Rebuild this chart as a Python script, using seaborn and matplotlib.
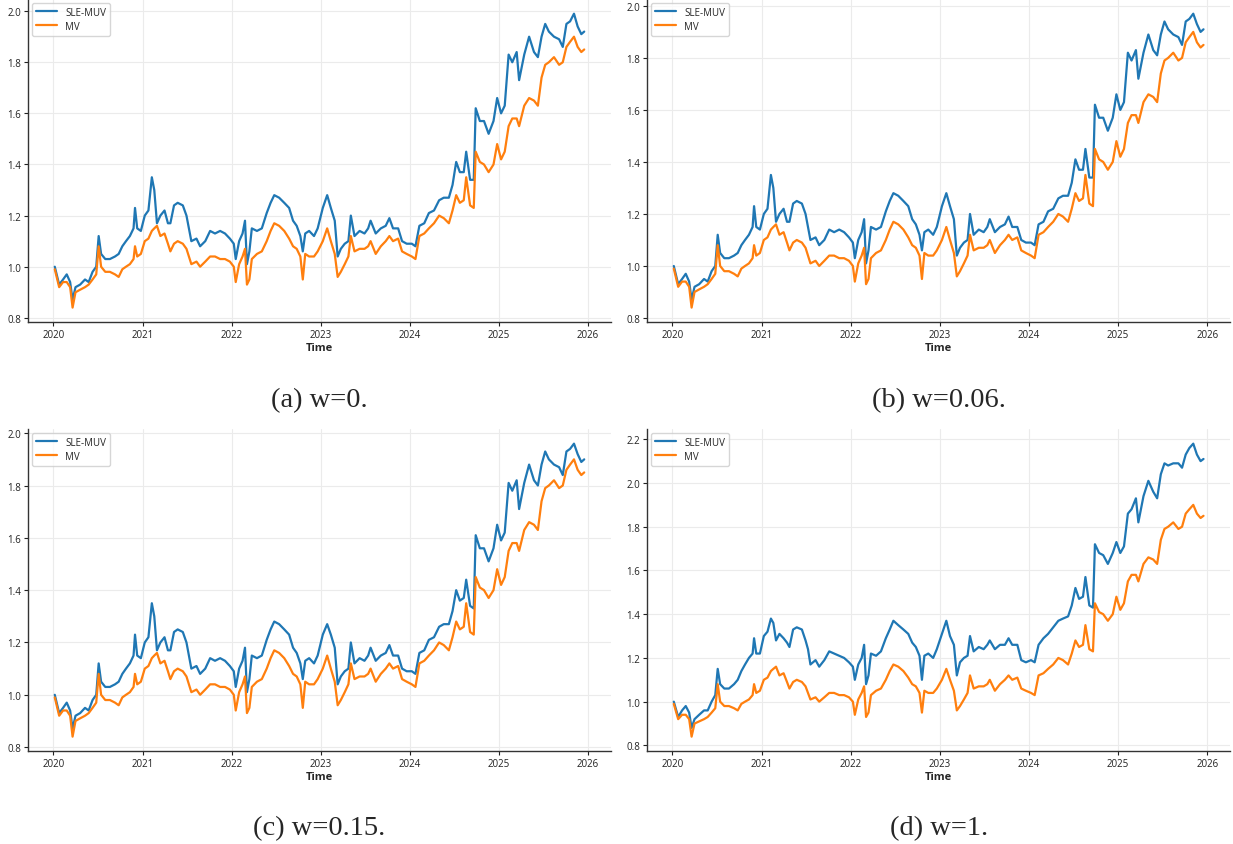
import matplotlib
matplotlib.use("Agg")
import matplotlib.pyplot as plt
import matplotlib.dates as mdates
import seaborn as sns
import pandas as pd

dates = [
    "2020-01-07", "2020-01-25", "2020-02-10", "2020-02-25", "2020-03-10", "2020-03-20", "2020-04-01",
    "2020-04-20", "2020-05-10", "2020-05-25", "2020-06-10", "2020-06-25", "2020-07-05", "2020-07-15",
    "2020-08-01", "2020-08-20", "2020-09-10", "2020-09-25", "2020-10-10", "2020-10-25", "2020-11-10",
    "2020-11-25", "2020-12-01", "2020-12-10", "2020-12-25",
    "2021-01-10", "2021-01-25", "2021-02-08", "2021-02-18", "2021-03-01", "2021-03-15", "2021-04-01",
    "2021-04-15", "2021-04-25", "2021-05-10", "2021-05-25", "2021-06-15", "2021-06-30", "2021-07-10",
    "2021-07-20", "2021-08-10", "2021-08-25", "2021-09-15", "2021-10-05", "2021-10-25", "2021-11-15",
    "2021-12-05", "2021-12-25",
    "2022-01-10", "2022-01-18", "2022-02-01", "2022-02-15", "2022-02-25", "2022-03-05", "2022-03-15",
    "2022-03-25", "2022-04-15", "2022-05-05", "2022-05-25", "2022-06-10", "2022-06-25", "2022-07-15",
    "2022-08-05", "2022-08-25", "2022-09-10", "2022-09-25", "2022-10-10", "2022-10-20", "2022-10-30",
    "2022-11-15", "2022-12-05", "2022-12-20",
    "2023-01-10", "2023-01-28", "2023-02-12", "2023-02-28", "2023-03-12", "2023-03-25", "2023-04-10",
    "2023-04-25", "2023-05-05", "2023-05-20", "2023-06-10", "2023-06-30", "2023-07-15", "2023-07-25",
    "2023-08-15", "2023-09-05", "2023-09-25", "2023-10-10", "2023-10-25", "2023-11-15", "2023-12-01",
    "2023-12-20",
    "2024-01-10", "2024-01-25", "2024-02-10", "2024-03-01", "2024-03-20", "2024-04-10", "2024-05-01",
    "2024-05-20", "2024-06-10", "2024-06-25", "2024-07-10", "2024-07-25", "2024-08-10", "2024-08-20",
    "2024-09-05", "2024-09-20", "2024-09-28", "2024-10-15", "2024-11-01", "2024-11-20", "2024-12-10",
    "2024-12-25",
    "2025-01-10", "2025-01-25", "2025-02-10", "2025-02-25", "2025-03-15", "2025-03-25", "2025-04-15",
    "2025-05-05", "2025-05-25", "2025-06-10", "2025-06-25", "2025-07-10", "2025-07-25", "2025-08-15",
    "2025-09-05", "2025-09-20", "2025-10-05", "2025-10-20", "2025-11-05", "2025-11-20", "2025-12-05",
    "2025-12-17",
]

mv = [
    0.99, 0.92, 0.94, 0.94, 0.92, 0.84, 0.90, 0.91, 0.92, 0.93, 0.95, 0.97, 1.08, 1.00, 0.98, 0.98, 0.97,
    0.96, 0.99, 1.00, 1.01, 1.03, 1.08, 1.04, 1.05,
    1.10, 1.11, 1.14, 1.15, 1.16, 1.12, 1.13, 1.09, 1.06, 1.09, 1.10, 1.09, 1.07, 1.04, 1.01, 1.02, 1.00,
    1.02, 1.04, 1.04, 1.03, 1.03, 1.02,
    1.00, 0.94, 1.01, 1.04, 1.07, 0.93, 0.95, 1.03, 1.05, 1.06, 1.10, 1.14, 1.17, 1.16, 1.14, 1.11, 1.08,
    1.07, 1.04, 0.95, 1.05, 1.04, 1.04, 1.06,
    1.10, 1.15, 1.10, 1.05, 0.96, 0.98, 1.01, 1.04, 1.12, 1.06, 1.07, 1.07, 1.08, 1.10, 1.05, 1.08, 1.10,
    1.12, 1.10, 1.11, 1.06, 1.05,
    1.04, 1.03, 1.12, 1.13, 1.15, 1.17, 1.20, 1.19, 1.17, 1.22, 1.28, 1.25, 1.26, 1.35, 1.24, 1.23, 1.45,
    1.41, 1.40, 1.37, 1.40, 1.48,
    1.42, 1.45, 1.55, 1.58, 1.58, 1.55, 1.63, 1.66, 1.65, 1.63, 1.74, 1.79, 1.80, 1.82, 1.79, 1.80, 1.86,
    1.88, 1.90, 1.86, 1.84, 1.85,
]

sle_a = [
    1.00, 0.93, 0.95, 0.97, 0.94, 0.87, 0.92, 0.93, 0.95, 0.94, 0.98, 1.00, 1.12, 1.05, 1.03, 1.03, 1.04,
    1.05, 1.08, 1.10, 1.12, 1.15, 1.23, 1.15, 1.14,
    1.20, 1.22, 1.35, 1.30, 1.17, 1.20, 1.22, 1.17, 1.17, 1.24, 1.25, 1.24, 1.20, 1.15, 1.10, 1.11, 1.08,
    1.10, 1.14, 1.13, 1.14, 1.13, 1.11,
    1.09, 1.03, 1.10, 1.13, 1.18, 1.01, 1.06, 1.15, 1.14, 1.15, 1.21, 1.25, 1.28, 1.27, 1.25, 1.23, 1.18,
    1.16, 1.12, 1.06, 1.13, 1.14, 1.12, 1.15,
    1.23, 1.28, 1.23, 1.18, 1.04, 1.07, 1.09, 1.10, 1.20, 1.12, 1.14, 1.13, 1.15, 1.18, 1.13, 1.15, 1.16,
    1.19, 1.15, 1.15, 1.10, 1.09,
    1.09, 1.08, 1.16, 1.17, 1.21, 1.22, 1.26, 1.27, 1.27, 1.32, 1.41, 1.37, 1.37, 1.45, 1.34, 1.34, 1.62,
    1.57, 1.57, 1.52, 1.57, 1.66,
    1.60, 1.63, 1.83, 1.80, 1.84, 1.73, 1.83, 1.90, 1.84, 1.82, 1.90, 1.95, 1.92, 1.90, 1.89, 1.86, 1.95,
    1.96, 1.99, 1.94, 1.91, 1.92,
]

sle_b = [
    1.00, 0.93, 0.95, 0.97, 0.94, 0.87, 0.92, 0.93, 0.95, 0.94, 0.98, 1.00, 1.12, 1.05, 1.03, 1.03, 1.04,
    1.05, 1.08, 1.10, 1.12, 1.15, 1.23, 1.15, 1.14,
    1.20, 1.22, 1.35, 1.30, 1.17, 1.20, 1.22, 1.17, 1.17, 1.24, 1.25, 1.24, 1.20, 1.15, 1.10, 1.11, 1.08,
    1.10, 1.14, 1.13, 1.14, 1.13, 1.11,
    1.09, 1.03, 1.10, 1.13, 1.18, 1.01, 1.06, 1.15, 1.14, 1.15, 1.21, 1.25, 1.28, 1.27, 1.25, 1.23, 1.18,
    1.16, 1.12, 1.06, 1.13, 1.14, 1.12, 1.15,
    1.23, 1.28, 1.23, 1.18, 1.04, 1.07, 1.09, 1.10, 1.20, 1.12, 1.14, 1.13, 1.15, 1.18, 1.13, 1.15, 1.16,
    1.19, 1.15, 1.15, 1.10, 1.09,
    1.09, 1.08, 1.16, 1.17, 1.21, 1.22, 1.26, 1.27, 1.27, 1.32, 1.41, 1.37, 1.37, 1.45, 1.34, 1.34, 1.62,
    1.57, 1.57, 1.52, 1.57, 1.66,
    1.60, 1.63, 1.82, 1.79, 1.83, 1.72, 1.82, 1.89, 1.83, 1.81, 1.89, 1.94, 1.91, 1.89, 1.88, 1.85, 1.94,
    1.95, 1.97, 1.93, 1.90, 1.91,
]

sle_c = [
    1.00, 0.93, 0.95, 0.97, 0.94, 0.87, 0.92, 0.93, 0.95, 0.94, 0.98, 1.00, 1.12, 1.05, 1.03, 1.03, 1.04,
    1.05, 1.08, 1.10, 1.12, 1.15, 1.23, 1.15, 1.14,
    1.20, 1.22, 1.35, 1.30, 1.17, 1.20, 1.22, 1.17, 1.17, 1.24, 1.25, 1.24, 1.20, 1.15, 1.10, 1.11, 1.08,
    1.10, 1.14, 1.13, 1.14, 1.13, 1.11,
    1.09, 1.03, 1.10, 1.13, 1.18, 1.01, 1.06, 1.15, 1.14, 1.15, 1.21, 1.25, 1.28, 1.27, 1.25, 1.23, 1.18,
    1.16, 1.12, 1.06, 1.13, 1.14, 1.12, 1.15,
    1.23, 1.27, 1.23, 1.18, 1.04, 1.07, 1.09, 1.10, 1.20, 1.12, 1.14, 1.13, 1.15, 1.18, 1.13, 1.15, 1.16,
    1.19, 1.15, 1.15, 1.10, 1.09,
    1.09, 1.08, 1.16, 1.17, 1.21, 1.22, 1.26, 1.27, 1.27, 1.32, 1.40, 1.36, 1.37, 1.44, 1.34, 1.33, 1.61,
    1.56, 1.56, 1.51, 1.56, 1.65,
    1.59, 1.62, 1.81, 1.78, 1.82, 1.71, 1.81, 1.88, 1.82, 1.80, 1.88, 1.93, 1.90, 1.88, 1.87, 1.84, 1.93,
    1.94, 1.96, 1.92, 1.89, 1.90,
]

sle_d = [
    1.00, 0.93, 0.96, 0.98, 0.95, 0.88, 0.92, 0.94, 0.96, 0.96, 1.00, 1.03, 1.15, 1.08, 1.06, 1.06, 1.08,
    1.10, 1.14, 1.17, 1.20, 1.22, 1.29, 1.22, 1.22,
    1.30, 1.32, 1.38, 1.36, 1.28, 1.31, 1.29, 1.27, 1.25, 1.33, 1.34, 1.33, 1.28, 1.24, 1.17, 1.19, 1.16,
    1.19, 1.23, 1.22, 1.21, 1.20, 1.18,
    1.16, 1.10, 1.17, 1.20, 1.26, 1.08, 1.12, 1.22, 1.21, 1.23, 1.29, 1.33, 1.37, 1.35, 1.33, 1.31, 1.27,
    1.25, 1.21, 1.10, 1.21, 1.22, 1.20, 1.24,
    1.31, 1.37, 1.30, 1.26, 1.12, 1.18, 1.20, 1.21, 1.30, 1.23, 1.25, 1.24, 1.26, 1.28, 1.24, 1.26, 1.26,
    1.29, 1.26, 1.26, 1.19, 1.18,
    1.19, 1.18, 1.26, 1.29, 1.31, 1.34, 1.37, 1.38, 1.39, 1.44, 1.52, 1.47, 1.48, 1.57, 1.44, 1.43, 1.72,
    1.68, 1.67, 1.63, 1.68, 1.73,
    1.68, 1.71, 1.86, 1.88, 1.93, 1.82, 1.94, 2.01, 1.96, 1.93, 2.04, 2.09, 2.08, 2.09, 2.09, 2.07, 2.13,
    2.16, 2.18, 2.13, 2.10, 2.11,
]

captions = ["(a) w=0.", "(b) w=0.06.", "(c) w=0.15.", "(d) w=1."]
series_labels = ["SLE-MUV", "MV"]

sns.set_style("whitegrid", {"grid.color": "#ebebeb", "axes.edgecolor": "#333333"})
plt.rcParams["font.family"] = ["Open Sans", "DejaVu Sans"]
plt.rcParams["font.size"] = 7.5

W, H = 1233, 845
fig = plt.figure(figsize=(W / 100, H / 100), dpi=100)

boxes = [
    (28.3, 0.0, 610.7, 323.3),
    (647.3, 0.0, 1230.0, 323.3),
    (28.3, 430.0, 610.7, 752.3),
    (647.3, 430.0, 1230.0, 752.3),
]
cap_y = [401, 829]

x = pd.to_datetime(dates)
for i, (sle, cap, box) in enumerate(zip([sle_a, sle_b, sle_c, sle_d], captions, boxes)):
    l, t, r, b = box
    ax = fig.add_axes([l / W, 1 - b / H, (r - l) / W, (b - t) / H])
    sns.lineplot(x=x, y=sle, ax=ax, color="#1f77b4", linewidth=1.6, label=series_labels[0])
    sns.lineplot(x=x, y=mv, ax=ax, color="#ff7f0e", linewidth=1.6, label=series_labels[1])
    ax.xaxis.set_major_locator(mdates.YearLocator())
    ax.xaxis.set_major_formatter(mdates.DateFormatter("%Y"))
    ax.set_xlabel("Time", fontweight="bold", fontsize=8, labelpad=1)
    ax.set_ylabel("")
    ax.tick_params(axis="both", labelsize=7, colors="#222222", length=3, width=0.8, pad=2,
                   bottom=True, left=True)
    sns.despine(ax=ax)
    for s in ["left", "bottom"]:
        ax.spines[s].set_linewidth(1.0)
        ax.spines[s].set_color("#333333")
    leg = ax.legend(loc="upper left", fontsize=7, frameon=True, borderaxespad=0.4,
                    handlelength=2.2, borderpad=0.4, labelspacing=0.3)
    leg.get_frame().set_edgecolor("#cccccc")
    cx = (l + r) / 2 / W
    cy = 1 - cap_y[i // 2] / H
    fig.text(cx, cy, cap, ha="center", va="center", fontsize=20.5,
             family=["Liberation Serif", "DejaVu Serif"])

fig.savefig("out.png", dpi=100)
